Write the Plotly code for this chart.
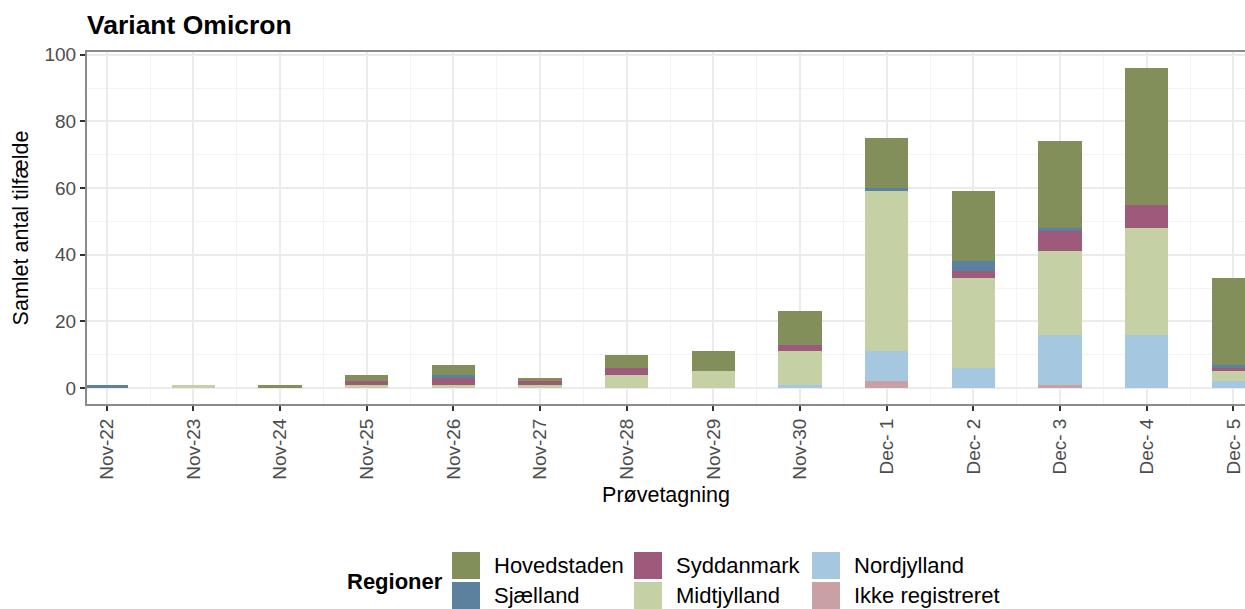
import plotly.graph_objects as go

# ---- data ----
dates = ["Nov-22", "Nov-23", "Nov-24", "Nov-25", "Nov-26", "Nov-27", "Nov-28",
         "Nov-29", "Nov-30", "Dec- 1", "Dec- 2", "Dec- 3", "Dec- 4", "Dec- 5"]

ikke_registreret = [0, 0, 0, 0, 0, 0, 0, 0, 0, 2, 0, 1, 0, 0]
nordjylland      = [0, 0, 0, 0, 0, 0, 0, 0, 1, 9, 6, 15, 16, 2]
midtjylland      = [0, 1, 0, 1, 1, 1, 4, 5, 10, 48, 27, 25, 32, 3]
syddanmark       = [0, 0, 0, 1, 2, 1, 2, 0, 2, 0, 2, 6, 7, 1]
sjaelland        = [1, 0, 0, 0, 1, 0, 0, 0, 0, 1, 3, 1, 0, 1]
hovedstaden      = [0, 0, 1, 2, 3, 1, 4, 6, 10, 15, 21, 26, 41, 26]

y_ticks = [0, 20, 40, 60, 80, 100]

# stacking order bottom -> top
series = [
    ("Ikke registreret", ikke_registreret, "#C9A1A5"),
    ("Nordjylland", nordjylland, "#A5C8E0"),
    ("Midtjylland", midtjylland, "#C5D0A5"),
    ("Syddanmark", syddanmark, "#9E5A7A"),
    ("Sjælland", sjaelland, "#5B819E"),
    ("Hovedstaden", hovedstaden, "#838F5A"),
]
colors = {name: col for name, _, col in series}

# legend layout (ggplot column-wise fill)
legend_columns = [["Hovedstaden", "Sjælland"],
                  ["Syddanmark", "Midtjylland"],
                  ["Nordjylland", "Ikke registreret"]]

# body margin removed via post_script, so figure pixels == page pixels
W, H = 1245, 609
L, R, T, B = 87, 1245, 52, 404

x_idx = list(range(len(dates)))

fig = go.Figure()
for name, vals, col in series:
    fig.add_trace(go.Bar(x=x_idx, y=vals, name=name, marker_color=col,
                         marker_line_width=0, width=0.5, showlegend=False))

tickfont = dict(family="Liberation Sans, Arial, sans-serif", size=19, color="#4D4D4D")
gridc = "#EBEBEB"

fig.update_layout(
    width=W, height=H,
    margin=dict(l=L, r=W - R, t=T, b=H - B, autoexpand=False),
    barmode="stack",
    plot_bgcolor="white", paper_bgcolor="white",
    font=dict(family="Liberation Sans, Arial, sans-serif", color="black"),
    title=dict(text="<b>Variant Omicron</b>", x=L / W, xanchor="left",
               y=1 - 25 / H, yanchor="middle", yref="container",
               font=dict(size=26.5, color="black")),
    xaxis=dict(range=[-0.227, 13.134], tickmode="array", tickvals=x_idx, ticktext=dates,
               tickangle=-90, tickfont=tickfont, ticks="outside", ticklen=5,
               tickwidth=1.5, tickcolor="#333333", automargin=False,
               showgrid=True, gridcolor=gridc, gridwidth=1.8, zeroline=False,
               minor=dict(tickmode="linear", tick0=0.5, dtick=1, showgrid=True,
                          gridcolor="#F3F3F3", gridwidth=1, ticks=""),
               showline=True, mirror=True, linecolor="#8A8A8A", linewidth=2,
               title=dict(text="Prøvetagning", standoff=8,
                          font=dict(size=21.5, color="black"))),
    yaxis=dict(range=[-4.8, 100.8], tickmode="array", tickvals=y_ticks,
               tickfont=tickfont, ticks="outside", ticklen=5, tickwidth=1.5,
               tickcolor="#333333", automargin=False,
               showgrid=True, gridcolor=gridc, gridwidth=1.8, zeroline=False,
               minor=dict(tickmode="linear", tick0=0, dtick=10, showgrid=True,
                          gridcolor="#F3F3F3", gridwidth=1, ticks=""),
               showline=True, mirror=False, linecolor="#8A8A8A", linewidth=2,
               title=dict(text="Samlet antal tilfælde", standoff=10,
                          font=dict(size=21.5, color="black"))),
)

# ---- manual ggplot-style legend (page pixel positions) ----
def px2x(px):
    return (px - L) / (R - L)

def py2y(py):
    return (B - py) / (B - T)

col_swatch_x = [452, 634, 812]
row_top_y = [552, 582]
sw_w, sw_h = 28, 27
text_gap = 12

fig.add_annotation(text="<b>Regioner</b>", xref="paper", yref="paper",
                   x=px2x(345), y=py2y(581), xanchor="left", yanchor="middle",
                   showarrow=False, font=dict(size=22, color="black"))

for ci, col_names in enumerate(legend_columns):
    for ri, name in enumerate(col_names):
        x0 = col_swatch_x[ci]
        y0 = row_top_y[ri]
        fig.add_shape(type="rect", xref="paper", yref="paper",
                      x0=px2x(x0), x1=px2x(x0 + sw_w),
                      y0=py2y(y0), y1=py2y(y0 + sw_h),
                      fillcolor=colors[name], line=dict(width=0), layer="above")
        fig.add_annotation(text=name, xref="paper", yref="paper",
                           x=px2x(x0 + sw_w + text_gap), y=py2y(y0 + sw_h / 2),
                           xanchor="left", yanchor="middle", showarrow=False,
                           font=dict(size=22, color="black"))

fig.write_html(
    "out.html",
    config={"displayModeBar": False},
    post_script="document.body.style.margin='0';document.body.style.overflow='hidden';",
)
